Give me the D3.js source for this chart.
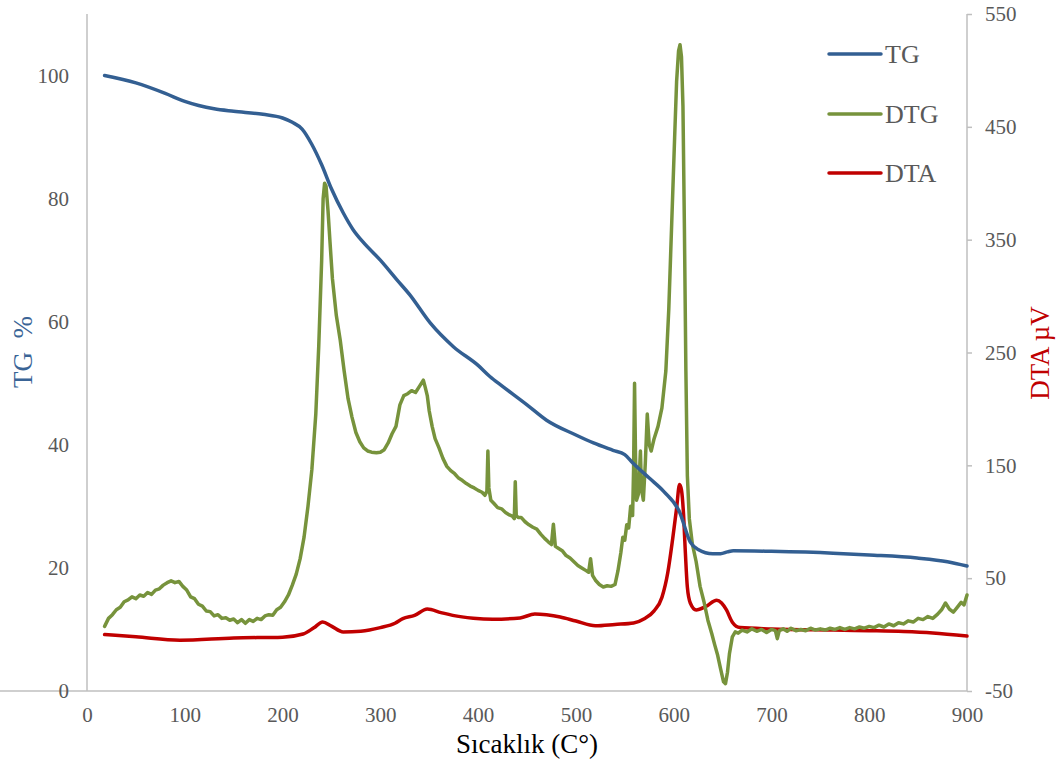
<!DOCTYPE html>
<html><head><meta charset="utf-8">
<script src="https://cdn.jsdelivr.net/npm/d3@7"></script>
<style>body{margin:0;background:#fff}svg{display:block}
text{font-family:"Liberation Serif","Times New Roman",serif;}</style>
</head><body>
<svg id="c" width="1063" height="767"></svg>
<script>
const xTicks = [0,100,200,300,400,500,600,700,800,900];
const leftTicks = [0,20,40,60,80,100];
const rightTicks = [-50,50,150,250,350,450,550];
const seriesNames = ["TG","DTG","DTA"];

// TG (%) : [temperature, value]
const tgData = [[18,100],[50,98.8],[80,97.1],[100,95.8],[130,94.6],[150,94.2],[180,93.7],[200,93.1],[210,92.4],[220,91.3],[230,88.8],[240,85.5],[250,81.6],[262,77.7],[272,75.0],[282,73.0],[300,70.0],[317,66.8],[330,64.4],[351,59.8],[375,55.9],[400,52.9],[412,51.1],[425,49.5],[450,46.5],[470,44.0],[500,41.6],[518,40.3],[538,39.1],[550,38.4],[558,37.1],[575,34.6],[590,32.4],[606,29.1],[617,24.2],[625,23.0],[640,22.3],[648,22.3],[655,22.6],[661,22.8],[700,22.7],[763,22.4],[800,22.1],[849,21.6],[880,21.0],[900,20.3]];

// DTG : [temperature, value]
const dtgData = [[18,10.5],[22,11.8],[26,12.4],[30,13.2],[34,13.6],[38,14.5],[42,14.8],[46,15.3],[50,15.0],[54,15.6],[58,15.4],[62,16.0],[66,15.7],[70,16.4],[74,16.6],[78,17.2],[82,17.6],[86,17.9],[90,17.6],[94,17.8],[98,17.0],[102,16.4],[106,15.3],[110,15.0],[114,14.1],[118,13.8],[122,13.0],[126,12.9],[130,12.2],[134,12.4],[138,11.8],[142,11.9],[146,11.5],[150,11.7],[154,11.1],[158,11.6],[162,11.0],[166,11.6],[170,11.3],[174,11.8],[178,11.6],[182,12.2],[186,12.4],[190,12.3],[194,13.2],[198,13.6],[202,14.5],[206,15.6],[210,17.2],[214,19.0],[218,21.5],[222,25],[226,30],[230,36],[234,45],[237,56],[240,70],[241.5,80],[243,82.5],[244.5,82],[246.5,78],[248.5,73],[251,67],[255,61],[259,57],[263,52],[267,47.5],[271,44.5],[275,42],[279,40.5],[283,39.5],[287,39],[291,38.8],[296,38.7],[300,38.8],[304,39.2],[308,40.3],[312,41.8],[316,43],[320,46.5],[324,48],[328,48.3],[332,48.8],[336,48.5],[340,49.5],[344,50.5],[346,49.3],[348,48],[350,45.5],[353,43],[356,41],[360,39.5],[364,37.8],[368,36.5],[372,35.8],[376,35.3],[380,34.6],[384,34.2],[388,33.7],[392,33.3],[396,33.0],[400,32.6],[404,32.3],[407,31.8],[409,32.5],[410,39.0],[411,33],[413,31],[416,30.5],[420,29.8],[424,29.6],[428,29.0],[432,28.6],[435,28.4],[437,28.0],[438,34],[439,28.5],[441,28.2],[444,28.2],[448,27.5],[452,27.0],[456,26.6],[460,26.3],[464,25.5],[468,24.8],[472,24.2],[475,23.8],[477,27.1],[479,23.5],[482,23.2],[486,22.8],[490,22.0],[494,21.6],[498,21.0],[502,20.4],[506,20.0],[510,19.6],[513,19.3],[515,21.5],[517,18.8],[520,18.0],[524,17.3],[528,16.9],[532,17.1],[536,17.0],[540,17.3],[543,19.5],[546,22.5],[548,25],[550,24.5],[552,27],[554,26.5],[556,30],[558,28.5],[559,36],[560,50],[561,38],[562,31],[564,32],[566,39],[567,33],[569,31],[571,37],[573,45],[575,40],[577,39],[580,41],[584,43],[588,46],[592,52],[595,62],[598,76],[601,90],[603,99],[605,104],[606.5,105],[608,103],[609.5,95],[611,75],[612.5,52],[614,35],[616,28],[619,24],[623,21],[627,17],[631,14.5],[635,11.5],[639,9.3],[642,7.5],[645,5.8],[648,3.6],[651,1.5],[653,1.2],[655,3],[657,6],[660,8.8],[663,9.6],[666,9.4],[670,9.9],[675,9.6],[680,10.1],[685,9.7],[690,10.0],[695,9.5],[700,10.0],[704,9.8],[706,8.5],[708,9.8],[712,10.1],[716,9.7],[720,10.2],[725,9.8],[730,10.0],[735,9.8],[740,10.2],[745,9.9],[750,10.1],[755,9.9],[760,10.2],[765,10.0],[770,10.3],[775,10.0],[780,10.3],[785,10.1],[790,10.4],[795,10.2],[800,10.5],[805,10.3],[810,10.7],[815,10.4],[820,10.9],[825,10.6],[830,11.1],[835,10.9],[840,11.4],[845,11.2],[850,11.8],[855,11.6],[860,12.1],[865,11.8],[870,12.5],[874,13.2],[878,14.3],[882,13.3],[886,12.8],[890,13.6],[894,14.4],[897,14.0],[900,15.6]];

// DTA (µV) : [temperature, value]
const dtaData = [[18,0],[50,-2],[95,-5],[150,-3],[200,-2.3],[221,0.5],[232,6],[241,11.2],[250,7.5],[262,2.3],[280,3],[300,6.2],[315,10],[323,14.2],[335,17],[348,22.7],[362,19.5],[374,17],[395,14.5],[415,13.6],[443,14.8],[458,18.2],[470,17.5],[484,15.6],[500,12],[520,7.8],[540,9],[559,10.3],[570,14],[580,21],[588,33],[594,55],[599,85],[603,112],[606,133],[608,128],[610,108],[612,72],[614,42],[617,28],[623,21.8],[633,25],[644,30.5],[649,28],[654,21.8],[660,11],[668,6.2],[700,5],[763,4],[800,3.5],[835,2.8],[865,1.5],[900,-1.3]];

const L = 87, R = 967, T = 14, B = 691;
const svg = d3.select("#c");
const x = d3.scaleLinear().domain([0,900]).range([L,R]);
const yL = d3.scaleLinear().domain([0,110]).range([B,T]);
const yR = d3.scaleLinear().domain([-50,550]).range([B,T]);

const gridGray = "#bfbfbf", labGray = "#595959";
const font = "Liberation Serif, Times New Roman, serif";
const fmt = d => String(d);

const ax = svg.append("g").attr("transform",`translate(0,${B})`)
  .call(d3.axisBottom(x).tickValues(xTicks).tickFormat(fmt).tickSize(0).tickPadding(16));
const al = svg.append("g").attr("transform",`translate(${L},0)`)
  .call(d3.axisLeft(yL).tickValues(leftTicks).tickFormat(fmt).tickSize(0).tickPadding(18));
const ar = svg.append("g").attr("transform",`translate(${R},0)`)
  .call(d3.axisRight(yR).tickValues(rightTicks).tickFormat(fmt).tickSize(5).tickPadding(13));
[ax,al,ar].forEach(g=>{
  g.attr("font-family",font).attr("font-size",21);
  g.selectAll(".domain").attr("stroke",gridGray).attr("stroke-width",1.5);
  g.selectAll(".tick line").attr("stroke",gridGray).attr("stroke-width",1.5);
  g.selectAll("text").attr("fill",labGray);
});
al.select(".domain").attr("d",`M0,${B}V${T}`);
ar.select(".domain").attr("d",`M0,${B}V${T}`);
ax.select(".domain").attr("d",`M0,0H${R}`);

const colors = {TG:"#335f92", DTG:"#77933c", DTA:"#c00000"};

const lineTG = d3.line().x(d=>x(d[0])).y(d=>yL(d[1])).curve(d3.curveMonotoneX);
const lineDTG = d3.line().x(d=>x(d[0])).y(d=>yL(d[1])).curve(d3.curveLinear);
const lineDTA = d3.line().x(d=>x(d[0])).y(d=>yR(d[1])).curve(d3.curveMonotoneX);

function draw(data, gen, c){
  svg.append("path").datum(data).attr("d",gen).attr("fill","none")
    .attr("stroke",c).attr("stroke-width",3.5).attr("stroke-linejoin","round").attr("stroke-linecap","round");
}
draw(dtaData, lineDTA, colors.DTA);
draw(dtgData, lineDTG, colors.DTG);
draw(tgData, lineTG, colors.TG);

svg.append("text").attr("x",527).attr("y",753).attr("text-anchor","middle")
  .attr("font-family",font).attr("font-size",27).attr("fill","#000").text("Sıcaklık (C°)");
svg.append("text").attr("transform","translate(32,352) rotate(-90)").attr("text-anchor","middle")
  .attr("font-family",font).attr("font-size",27).attr("fill","#3a6496").style("white-space","pre").text("TG  %");
svg.append("text").attr("transform","translate(1049,353) rotate(-90)").attr("text-anchor","middle")
  .attr("font-family",font).attr("font-size",27).attr("fill","#c00000").text("DTA µV");

const legY = [54,114,173];
seriesNames.forEach((n,i)=>{
  svg.append("line").attr("x1",829).attr("x2",881).attr("y1",legY[i]).attr("y2",legY[i])
    .attr("stroke",colors[n]).attr("stroke-width",3.5).attr("stroke-linecap","round");
  svg.append("text").attr("x",885).attr("y",legY[i]).attr("dy","0.35em")
    .attr("font-family",font).attr("font-size",26).attr("fill",labGray).text(n);
});
</script>
</body></html>
